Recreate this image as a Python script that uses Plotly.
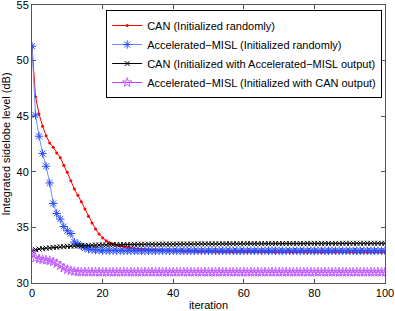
import plotly.graph_objects as go

iterations = list(range(101))

can_random = [
    51.3, 46.75, 45.2, 44.1, 43.25, 42.6, 42.2, 41.7, 41.27, 40.6,
    39.95, 39.2, 38.45, 37.9, 37.3, 36.65, 36.0, 35.4, 34.85, 34.4,
    34.05, 33.8, 33.62, 33.5, 33.4, 33.32, 33.25, 33.2, 33.15, 33.1,
    33.07, 33.04, 33.01, 32.99, 32.97, 32.95, 32.93, 32.92, 32.9, 32.89,
    32.88, 32.87, 32.87, 32.86, 32.86, 32.85, 32.85, 32.84, 32.84, 32.84,
    32.83, 32.83, 32.83, 32.82, 32.82, 32.82, 32.82, 32.81, 32.81, 32.81,
    32.81, 32.81, 32.8, 32.8, 32.8, 32.8, 32.8, 32.8, 32.8, 32.79,
    32.79, 32.79, 32.79, 32.79, 32.79, 32.79, 32.79, 32.79, 32.78, 32.78,
    32.78, 32.78, 32.78, 32.78, 32.78, 32.78, 32.78, 32.78, 32.78, 32.78,
    32.77, 32.77, 32.77, 32.77, 32.77, 32.77, 32.77, 32.77, 32.77, 32.77,
    32.77,
]

misl_random = [
    51.3, 45.1, 43.2, 41.65, 40.5, 39.0, 37.15, 36.25, 35.75, 35.08,
    34.7, 34.45, 33.68, 33.5, 33.3, 33.15, 33.05, 33.0, 32.97, 32.95,
    32.93, 32.92, 32.92, 32.91, 32.91, 32.91, 32.9, 32.9, 32.9, 32.9,
    32.9, 32.9, 32.9, 32.9, 32.9, 32.9, 32.9, 32.9, 32.9, 32.9,
    32.9, 32.9, 32.9, 32.9, 32.9, 32.9, 32.9, 32.9, 32.9, 32.9,
    32.9, 32.9, 32.9, 32.9, 32.9, 32.9, 32.9, 32.9, 32.9, 32.9,
    32.9, 32.9, 32.9, 32.9, 32.9, 32.9, 32.9, 32.9, 32.9, 32.9,
    32.9, 32.9, 32.9, 32.9, 32.9, 32.9, 32.9, 32.9, 32.9, 32.9,
    32.9, 32.9, 32.9, 32.9, 32.9, 32.9, 32.9, 32.9, 32.9, 32.9,
    32.9, 32.9, 32.9, 32.9, 32.9, 32.9, 32.9, 32.9, 32.9, 32.9,
    32.9,
]

can_from_misl = [
    32.9, 33.0, 33.05, 33.1, 33.13, 33.16, 33.2, 33.22, 33.25, 33.27,
    33.3, 33.31, 33.33, 33.34, 33.36, 33.37, 33.38, 33.4, 33.41, 33.42,
    33.43, 33.43, 33.44, 33.44, 33.45, 33.45, 33.46, 33.46, 33.47, 33.47,
    33.48, 33.48, 33.48, 33.49, 33.49, 33.49, 33.49, 33.5, 33.5, 33.5,
    33.5, 33.5, 33.51, 33.51, 33.51, 33.51, 33.51, 33.52, 33.52, 33.52,
    33.52, 33.52, 33.52, 33.52, 33.53, 33.53, 33.53, 33.53, 33.53, 33.53,
    33.53, 33.54, 33.54, 33.54, 33.54, 33.54, 33.54, 33.54, 33.54, 33.55,
    33.55, 33.55, 33.55, 33.55, 33.55, 33.55, 33.55, 33.55, 33.56, 33.56,
    33.56, 33.56, 33.56, 33.56, 33.56, 33.56, 33.56, 33.56, 33.57, 33.57,
    33.57, 33.57, 33.57, 33.57, 33.57, 33.57, 33.57, 33.57, 33.57, 33.57,
    33.57,
]

misl_from_can = [
    32.7, 32.25, 32.15, 32.1, 32.05, 32.0, 31.9, 31.75, 31.55, 31.35,
    31.2, 31.1, 31.03, 31.0, 30.99, 30.98, 30.98, 30.98, 30.97, 30.97,
    30.97, 30.97, 30.97, 30.97, 30.97, 30.97, 30.97, 30.97, 30.97, 30.97,
    30.97, 30.97, 30.97, 30.97, 30.97, 30.97, 30.97, 30.97, 30.97, 30.97,
    30.97, 30.97, 30.97, 30.97, 30.97, 30.97, 30.97, 30.97, 30.97, 30.97,
    30.97, 30.97, 30.97, 30.97, 30.97, 30.97, 30.97, 30.97, 30.97, 30.97,
    30.97, 30.97, 30.97, 30.97, 30.97, 30.97, 30.97, 30.97, 30.97, 30.97,
    30.97, 30.97, 30.97, 30.97, 30.97, 30.97, 30.97, 30.97, 30.97, 30.97,
    30.97, 30.97, 30.97, 30.97, 30.97, 30.97, 30.97, 30.97, 30.97, 30.97,
    30.97, 30.97, 30.97, 30.97, 30.97, 30.97, 30.97, 30.97, 30.97, 30.97,
    30.97,
]

names = [
    "CAN (Initialized randomly)",
    "Accelerated\u2212MISL (Initialized randomly)",
    "CAN (Initialized with Accelerated\u2212MISL output)",
    "Accelerated\u2212MISL (Initialized with CAN output)",
]

x_ticks = [0, 20, 40, 60, 80, 100]
y_ticks = [30, 35, 40, 45, 50, 55]

fig = go.Figure()
fig.add_trace(go.Scatter(
    x=iterations, y=can_random, name=names[0], mode="lines+markers",
    line=dict(color="#ff0000", width=1),
    marker=dict(symbol="circle", size=3, color="#ff0000"),
))
fig.add_trace(go.Scatter(
    x=iterations, y=misl_random, name=names[1], mode="lines+markers",
    line=dict(color="#6f8cff", width=1),
    marker=dict(symbol="asterisk-open", size=7, color="#2a4cff",
                line=dict(color="#2a4cff", width=1)),
))
fig.add_trace(go.Scatter(
    x=iterations, y=can_from_misl, name=names[2], mode="lines+markers",
    line=dict(color="#000000", width=1),
    marker=dict(symbol="x-thin-open", size=5, color="#000000",
                line=dict(color="#000000", width=1)),
))
fig.add_trace(go.Scatter(
    x=iterations, y=misl_from_can, name=names[3], mode="lines+markers",
    line=dict(color="#c040ff", width=1),
    marker=dict(symbol="star-open", size=7, color="#c060ff",
                line=dict(color="#c060ff", width=1)),
))

axis_common = dict(
    showgrid=False, zeroline=False, showline=True, linecolor="#555555",
    linewidth=1, mirror="ticks", ticks="inside", ticklen=4,
    tickcolor="#555555", automargin=False, ticklabeloverflow="allow",
    tickfont=dict(family="Liberation Sans", size=11, color="#000000"),
)

fig.update_layout(
    width=395, height=311,
    margin=dict(l=32, r=10, t=5, b=28),
    paper_bgcolor="white", plot_bgcolor="white",
    font=dict(family="Liberation Sans", size=11, color="#000000"),
    showlegend=True,
    legend=dict(
        x=0.992, y=0.982, xanchor="right", yanchor="top",
        bgcolor="white", bordercolor="#000000", borderwidth=1,
        font=dict(family="Liberation Sans", size=11),
        tracegroupgap=0, itemwidth=30,
    ),
    xaxis=dict(range=[0, 100], tickvals=x_ticks,
               title=dict(text="iteration", standoff=3,
                          font=dict(family="Liberation Sans", size=11)),
               **axis_common),
    yaxis=dict(range=[30, 55], tickvals=y_ticks,
               title=dict(text="Integrated sidelobe level (dB)", standoff=5,
                          font=dict(family="Liberation Sans", size=11)),
               **axis_common),
)

fig.write_html("out.html", config={"displayModeBar": False},
               post_script="document.body.style.margin='0';")
